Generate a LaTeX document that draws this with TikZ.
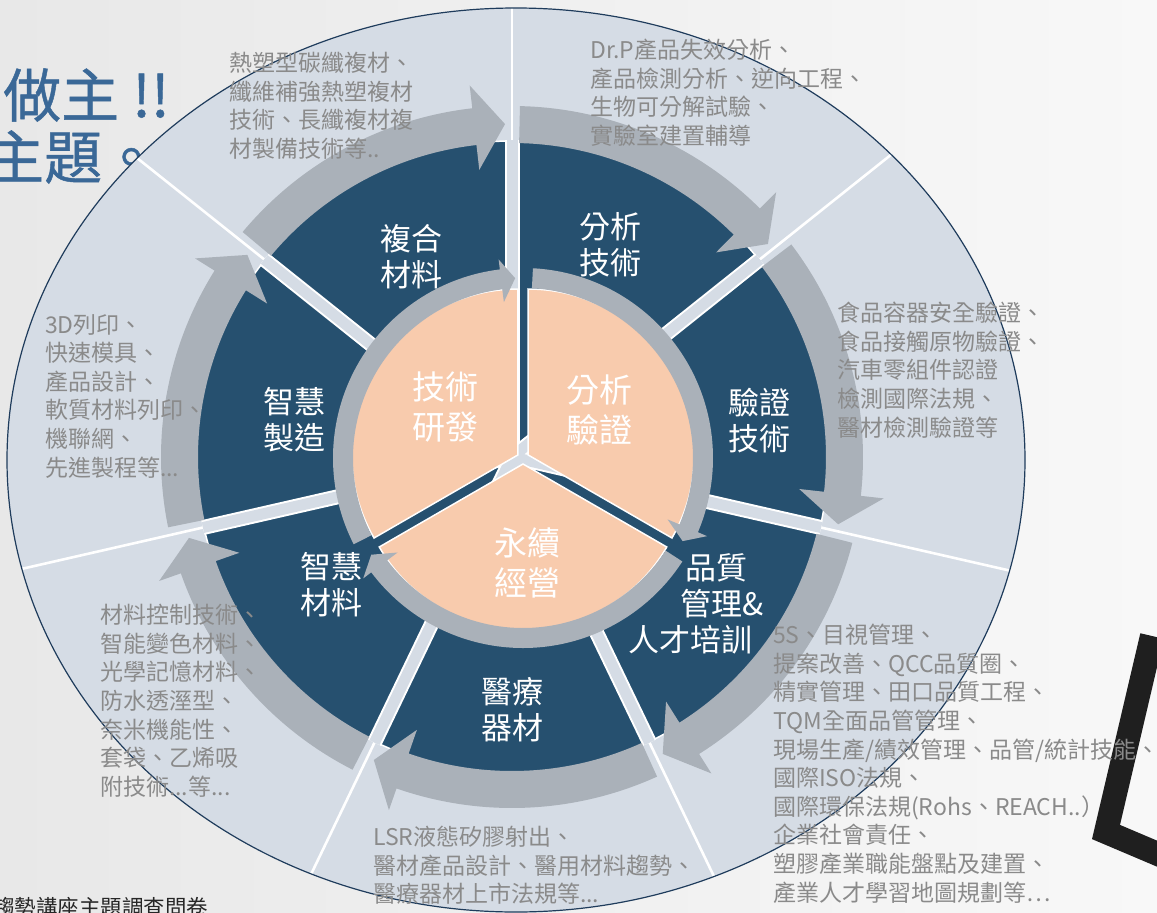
\documentclass[tikz,border=0pt]{standalone}
\usepackage{fontspec}
\newfontfamily\cjk{Noto Sans CJK TC}
\newfontfamily\cjkhead[FakeBold=0.8]{Noto Sans CJK TC}
\usepackage{xcolor}

\definecolor{bgleft}{HTML}{E8E8E8}
\definecolor{bgright}{HTML}{F8F8F8}
\definecolor{ringlight}{HTML}{D5DCE5}
\definecolor{segdark}{HTML}{26506F}
\definecolor{arrowgray}{HTML}{AAB1B9}
\definecolor{peach}{HTML}{F8CBAD}
\definecolor{notegray}{HTML}{8A8A8A}
\definecolor{rimblue}{HTML}{1F3C5C}
\definecolor{titleblue}{HTML}{3A6897}

\tikzset{
  note/.style={font=\cjk\fontsize{23}{28.6}\selectfont, text=notegray, align=left, anchor=north west, inner sep=0pt},
  seglabel/.style={font=\cjk\fontsize{31}{36}\selectfont, text=white, align=center, inner sep=0pt},
  corelabel/.style={font=\cjk\fontsize{33}{40}\selectfont, text=white, align=center, inner sep=0pt},
  titletext/.style={font=\cjkhead\fontsize{58}{60}\selectfont, text=titleblue, inner sep=0pt, anchor=west}
}

\begin{document}
\begin{tikzpicture}[x=1pt,y=1pt]
\useasboundingbox (0,0) rectangle (1157,-913);
\clip (0,0) rectangle (1157,-913);
\shade[left color=bgleft, right color=bgright] (0,0) rectangle (1157,-913);

% what is left of the slide around the chart
\node[titletext] (titletop) at (3,-95) {做主 !!};
\node[titletext] (titlebot) at (-14,-157) {主題。};
\node[font=\cjk\fontsize{21.5}{24}\selectfont, text=black!85, anchor=base west, inner sep=0pt] (survey) at (-7,-915) {趨勢講座主題調查問卷};
\draw[line width=24pt, color=black!88, line join=miter] (1152,-636) -- (1106,-832) -- (1172,-860);

\coordinate (E) at (516,-460);
\coordinate (D) at (512,-457);
\coordinate (I) at (523,-458);

% outer ring
\fill[ringlight] (E) ellipse [x radius=509pt, y radius=452pt];
\begin{scope}
  \clip (E) ellipse [x radius=509pt, y radius=452pt];
  \foreach \k in {0,...,6}
    \draw[white, line width=2.6pt] (D) -- ++({90-\k*360/7}:600pt);
\end{scope}

% dark segments
\filldraw[fill=segdark, draw=white, line width=1.5pt] (D) circle (316pt);
\begin{scope}
  \clip (D) circle (317pt);
  \foreach \k in {0,...,6}
    \draw[white, line width=15pt] (D) -- ++({90-\k*360/7}:330pt);
  \foreach \k in {0,...,6}
    \draw[ringlight, line width=11pt] (D) -- ++({90-\k*360/7}:330pt);
\end{scope}

% outer arrows
\begin{scope}[shift={(D)}]
\foreach \k in {0,...,6}{
  \pgfmathsetmacro\tl{90-\k*360/7-1.3}
  \pgfmathsetmacro\tp{90-(\k+1)*360/7+1.2}
  \pgfmathsetmacro\bk{\tp+5.3}
  \fill[arrowgray] (\tl:351pt) arc[start angle=\tl, end angle=\bk, radius=351pt]
    -- (\bk:374pt) -- (\tp:333pt) -- (\bk:289pt) -- (\bk:314pt)
    arc[start angle=\bk, end angle=\tl, radius=314pt] -- cycle;
}
\end{scope}

% core
\begin{scope}[shift={(I)}]
\foreach \m in {150,30,270}
  \filldraw[fill=peach, draw=white, line width=1.5pt] (\m:6pt) -- ++({\m+60}:166pt)
    arc[start angle={\m+60}, end angle={\m-60}, radius=166pt] -- cycle;
\foreach \s in {90,-30,-150}{
  \pgfmathsetmacro\tl{\s-3}
  \pgfmathsetmacro\tp{\s-120+2.5}
  \pgfmathsetmacro\bk{\tp+4.5}
  \fill[arrowgray] (\tl:190pt) arc[start angle=\tl, end angle=\bk, radius=190pt]
    -- (\bk:200pt) -- (\tp:180pt) -- (\bk:157pt) -- (\bk:170pt)
    arc[start angle=\bk, end angle=\tl, radius=170pt] -- cycle;
}
\end{scope}

\draw[rimblue, line width=1.2pt] (E) ellipse [x radius=509pt, y radius=452pt];

% labels
\node[corelabel] (corerd) at (445,-407) {技術\\研發};
\node[corelabel] (coretest) at (599,-410) {分析\\驗證};
\node[corelabel] (coresust) at (527,-563) {永續\\經營};

\node[seglabel] (segcomposite) at (411,-257) {複合\\材料};
\node[seglabel] (seganalysis) at (610,-245) {分析\\技術};
\node[seglabel] (segverify) at (759,-421) {驗證\\技術};
\node[seglabel, align=left, anchor=west] (segquality) at (628,-604) {\hspace{57pt}品質\\\hspace{52pt}管理\&\\人才培訓};
\node[seglabel] (segmedical) at (512,-710) {醫療\\器材};
\node[seglabel] (segsmartmat) at (331,-585) {智慧\\材料};
\node[seglabel] (segsmartmfg) at (294,-420) {智慧\\製造};

\node[note] (notecomposite) at (229,-52) {熱塑型碳纖複材、\\纖維補強熱塑複材\\技術、長纖複材複\\材製備技術等..};
\node[note] (noteanalysis) at (590,-39) {Dr.P產品失效分析、\\產品檢測分析、逆向工程、\\生物可分解試驗、\\實驗室建置輔導};
\node[note] (noteverify) at (837,-302) {食品容器安全驗證、\\食品接觸原物驗證、\\汽車零組件認證\\檢測國際法規、\\醫材檢測驗證等};
\node[note] (notequality) at (773,-624) {5S、目視管理、\\提案改善、QCC品質圈、\\精實管理、田口品質工程、\\TQM全面品管管理、\\現場生產/績效管理、品管/統計技能、\\國際ISO法規、\\國際環保法規(Rohs、REACH..）\\企業社會責任、\\塑膠產業職能盤點及建置、\\產業人才學習地圖規劃等…};
\node[note] (notemedical) at (373,-826) {LSR液態矽膠射出、\\醫材產品設計、醫用材料趨勢、\\醫療器材上市法規等...};
\node[note] (notesmartmat) at (100,-604) {材料控制技術、\\智能變色材料、\\光學記憶材料、\\防水透溼型、\\奈米機能性、\\套袋、乙烯吸\\附技術...等...};
\node[note] (notesmartmfg) at (45,-314) {3D列印、\\快速模具、\\產品設計、\\軟質材料列印、\\機聯網、\\先進製程等...};
\end{tikzpicture}
\end{document}
